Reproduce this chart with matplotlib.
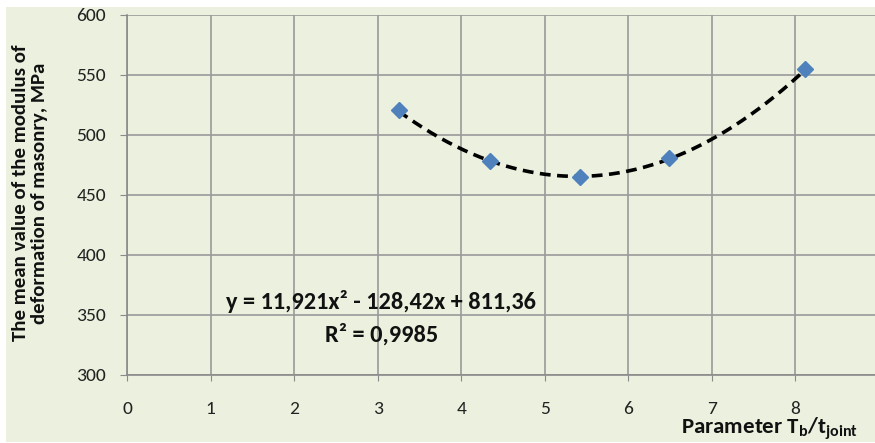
import numpy as np
import matplotlib
matplotlib.use("Agg")
import matplotlib.pyplot as plt
from matplotlib.patches import Rectangle

# Data
x_vals = [3.25, 4.34, 5.42, 6.49, 8.12]
y_vals = [521, 478, 465, 481, 555]
# Trendline coefficients as printed on the chart
trend_coef = [11.921, -128.42, 811.36]
eq_text = "y = 11,921x² - 128,42x + 811,36"
r2_text = "R² = 0,9985"
x_ticks = [0, 1, 2, 3, 4, 5, 6, 7, 8, 9]
y_ticks = [300, 350, 400, 450, 500, 550, 600]

plt.rcParams['font.family'] = ['Carlito', 'DejaVu Sans']
plt.rcParams['mathtext.fontset'] = 'custom'
plt.rcParams['mathtext.bf'] = 'Carlito:bold'
plt.rcParams['mathtext.rm'] = 'Carlito'

W, H = 875, 443
fig = plt.figure(figsize=(W / 100, H / 100), dpi=100, facecolor='white')
bg = '#EBF1DE'
fig.patches.append(Rectangle((6 / W, 1 / H), 1, 1 - 8 / H, transform=fig.transFigure,
                             facecolor=bg, edgecolor='none', zorder=-10))

ax = fig.add_axes([127 / W, 1 - 375 / H, 752 / W, 360 / H])
ax.set_facecolor(bg)
ax.set_xlim(0, 9)
ax.set_ylim(300, 600)
ax.set_xticks(x_ticks)
ax.set_yticks(y_ticks)
ax.grid(True, color='#9a9a9a', lw=1.2)
ax.set_axisbelow(True)
for s in ['top', 'right']:
    ax.spines[s].set_visible(False)
for s in ['left', 'bottom']:
    ax.spines[s].set_color('#8a8a8a')
    ax.spines[s].set_linewidth(1.2)
ax.tick_params(axis='x', length=4, color='#8a8a8a', pad=15, labelsize=14, labelcolor='#222222')
ax.tick_params(axis='y', length=5, color='#8a8a8a', pad=10, labelsize=14, labelcolor='#222222')

xf = np.linspace(min(x_vals), max(x_vals), 200)
yf = np.polyval(trend_coef, xf)
ax.plot(xf, yf, color='black', lw=2.6, dashes=(3, 1.8), zorder=3)
ax.plot(x_vals, y_vals, 'D', color='#4F81BD', ms=8.5, zorder=4, clip_on=False)

ax.text((381 - 127) / 752, 1 - (309 - 15) / 360, eq_text, transform=ax.transAxes,
        ha='center', va='baseline', fontsize=17.5, fontweight='bold', color='#111111')
ax.text((381.5 - 127) / 752, 1 - (342 - 15) / 360, r2_text, transform=ax.transAxes,
        ha='center', va='baseline', fontsize=17.5, fontweight='bold', color='#111111')

fig.text(30 / W, 1 - 193 / H, "The mean value of the modulus of\ndeformation of masonry, MPa",
         rotation=90, ha='center', va='center', multialignment='center',
         fontsize=15, fontweight='bold', color='#111111', linespacing=1.2)
fig.text(858 / W, 1 - 434 / H, r"Parameter T$_\mathbf{b}$/t$_\mathbf{joint}$",
         ha='right', va='baseline', fontsize=16.5, fontweight='bold', color='#111111')

fig.savefig('out.png', dpi=100, facecolor=fig.get_facecolor())
